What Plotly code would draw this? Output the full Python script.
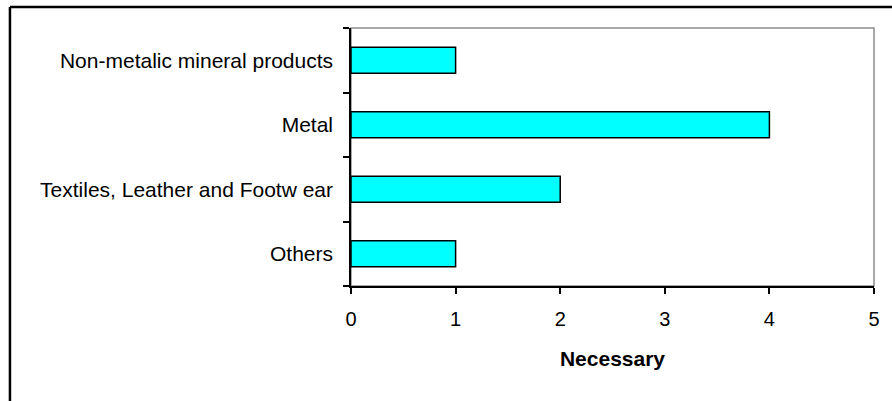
import plotly.graph_objects as go

# Sector counts, listed bottom to top
sectors = ["Others", "Textiles, Leather and Footw ear", "Metal", "Non-metalic mineral products"]
necessary = [1, 2, 4, 1]
x_ticks = [0, 1, 2, 3, 4, 5]

FONT = "Liberation Sans, Arial, sans-serif"

fig = go.Figure(
    go.Bar(
        x=necessary,
        y=sectors,
        orientation="h",
        width=0.4,
        marker=dict(color="#00FFFF", line=dict(color="black", width=1.5)),
        hoverinfo="x+y",
    )
)

# Gray frame around the plot area (left/bottom covered by black axis lines)
fig.add_shape(type="rect", xref="x domain", yref="y domain", x0=0, x1=1, y0=0, y1=1,
              line=dict(color="#8c8c8c", width=1.5), layer="below")

# Outer chart border (top and left edges)
W_PLOT, H_PLOT = 526, 258
left_px, top_px = 8, 7
px_x = (left_px - 351) / W_PLOT
px_y = 1 + (28 - top_px) / H_PLOT
fig.add_shape(type="line", xref="paper", yref="paper", x0=px_x, x1=px_x, y0=px_y, y1=-1.0,
              line=dict(color="black", width=2.5))
fig.add_shape(type="line", xref="paper", yref="paper", x0=px_x, x1=1.2, y0=px_y, y1=px_y,
              line=dict(color="black", width=2.5))

fig.update_layout(
    width=892,
    height=401,
    margin=dict(l=351, r=15, t=28, b=115),
    paper_bgcolor="white",
    plot_bgcolor="white",
    showlegend=False,
    font=dict(family=FONT, size=20, color="black"),
    xaxis=dict(
        range=[0, 5],
        tickvals=x_ticks,
        ticktext=[str(v) for v in x_ticks],
        showgrid=False,
        zeroline=False,
        showline=True,
        linecolor="black",
        linewidth=1.5,
        ticks="outside",
        ticklen=6,
        tickwidth=1.5,
        tickcolor="black",
        ticklabelstandoff=8,
        tickfont=dict(size=20),
        title=dict(text="<b>Necessary</b>", font=dict(size=21), standoff=23),
        fixedrange=True,
    ),
    yaxis=dict(
        categoryorder="array",
        categoryarray=sectors,
        tickson="boundaries",
        showgrid=False,
        zeroline=False,
        showline=True,
        linecolor="black",
        linewidth=1.5,
        ticks="outside",
        ticklen=6,
        tickwidth=1.5,
        tickcolor="black",
        ticklabelstandoff=12,
        tickfont=dict(size=21),
        fixedrange=True,
    ),
)

fig.write_html("out.html")
